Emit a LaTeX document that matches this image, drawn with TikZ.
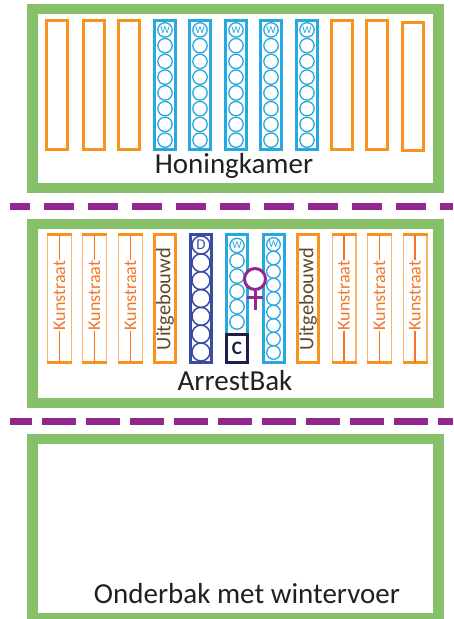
\documentclass[tikz,border=0pt]{standalone}
\usepackage{fontspec}
\setmainfont{Carlito}
\definecolor{boxgreen}{RGB}{134,193,106}
\definecolor{frameorange}{RGB}{247,147,30}
\definecolor{kunstorange}{RGB}{243,118,38}
\definecolor{lightorange}{RGB}{249,180,105}
\definecolor{lightblue}{RGB}{39,168,224}
\definecolor{darkblue}{RGB}{59,75,164}
\definecolor{queenpurple}{RGB}{147,39,143}
\definecolor{navy}{RGB}{27,31,74}
\definecolor{textgrey}{RGB}{35,31,32}
\definecolor{brown}{RGB}{96,72,40}
\tikzset{
  greenbox/.style={draw=boxgreen, line width=10.5pt, fill=white, inner sep=0pt},
  oframe/.style={draw=frameorange, line width=3pt, inner sep=0pt, minimum width=21pt},
  bframe/.style={draw=lightblue, line width=3pt, inner sep=0pt, minimum width=21pt},
  dframe/.style={draw=darkblue, line width=3pt, inner sep=0pt, minimum width=21pt},
  bcirc/.style={circle, draw=lightblue, line width=1.3pt, inner sep=0pt, minimum size=14.4pt, text=lightblue, font=\fontsize{10.5}{10.5}\selectfont},
  rcirc/.style={circle, draw=lightblue, line width=1.3pt, inner sep=0pt, minimum size=13.6pt, text=lightblue, font=\fontsize{10.5}{10.5}\selectfont},
  dcirc/.style={circle, draw=darkblue, line width=1.5pt, inner sep=0pt, minimum size=18pt, text=darkblue, font=\fontsize{15}{15}\selectfont},
  kunstthin/.style={draw=lightorange, line width=1.4pt},
  kunstbar/.style={draw=frameorange, line width=3pt},
  kunstline/.style={draw=kunstorange, line width=1.8pt},
  kunsttext/.style={rotate=90, inner sep=0pt, text=kunstorange, font=\fontsize{18}{18}\selectfont},
  uittext/.style={rotate=90, inner sep=0pt, text=brown, font=\fontsize{20.5}{20.5}\selectfont},
  bigtext/.style={anchor=base, inner sep=0pt, text=textgrey, font=\fontsize{29}{29}\selectfont},
  divider/.style={draw=queenpurple, line width=7pt},
  queen/.style={circle, draw=queenpurple, line width=3pt, fill=white, inner sep=0pt, minimum size=21pt},
  qline/.style={draw=queenpurple, line width=3pt},
  cbox/.style={draw=navy, line width=3pt, fill=white, inner sep=0pt, minimum width=21pt, minimum height=28pt, text=navy, font=\bfseries\fontsize{19}{19}\selectfont}
}
\begin{document}
\begin{tikzpicture}[x=1pt,y=-1pt]
\useasboundingbox (0,0) rectangle (453,619);
\fill[white] (0,0) rectangle (453,619);

% ---------- green boxes ----------
\node[greenbox, minimum width=406.4pt, minimum height=179pt] (honing) at (235.5,98.7) {};
\node[greenbox, minimum width=406.4pt, minimum height=179pt] (arrest) at (235.5,313.7) {};
\node[greenbox, minimum width=406.4pt, minimum height=179pt] (onder) at (235.5,528.7) {};

% ---------- dividers ----------
\coordinate (d1a) at (10,206.5);
\coordinate (d1b) at (453,206.5);
\coordinate (d2a) at (10,421.5);
\coordinate (d2b) at (453,421.5);
\draw[divider, dash pattern=on 30pt off 14pt, dash phase=10pt] (d1a) -- (d1b);
\draw[divider, dash pattern=on 34pt off 10pt, dash phase=12pt] (d2a) -- (d2b);

% ---------- Honingkamer frames ----------
\foreach \x [count=\i] in {57,94,129,341.5,377} {
  \node[oframe, minimum height=129pt] (ho\i) at (\x,85) {};
}
\node[oframe, minimum height=128pt] (ho6) at (413,86.5) {};
\foreach \x [count=\i] in {165,200,236,271,307} {
  \node[bframe, minimum height=129pt] (hb\i) at (\x,85) {};
  \node[bcirc] (hb\i-0) at (\x,29.9) {W};
  \foreach \k in {1,...,7} {
    \node[bcirc] (hb\i-\k) at (\x,29.9+15.75*\k) {};
  }
}
\node[bigtext] (honingtext) at (234,173) {Honingkamer};

% ---------- ArrestBak frames ----------
\foreach \x [count=\i] in {59.5,94.5,130.5,344,379.5,415} {
  \draw[kunstthin] (\x-11.8,234.5) rectangle (\x+11.8,362.5);
  \coordinate (kt\i) at (\x,234.5);
  \coordinate (kb\i) at (\x,362.5);
  \draw[kunstbar] (\x-12.5,234.5) -- (\x+12.5,234.5);
  \draw[kunstbar] (\x-12.5,362.5) -- (\x+12.5,362.5);
  \node[kunsttext] (k\i) at (\x,295.5) {Kunstraat};
  \draw[kunstline] (kt\i) -- (k\i.east);
  \draw[kunstline] (k\i.west) -- (kb\i);
}
\node[oframe, minimum height=128pt] (u1) at (165,298.5) {};
\node[uittext] (u1t) at (165,299) {Uitgebouwd};
\node[oframe, minimum height=128pt] (u2) at (308,298.5) {};
\node[uittext] (u2t) at (308,299) {Uitgebouwd};

% D frame
\node[dframe, minimum height=128pt] (dfr) at (201,298.5) {};
\node[dcirc] (dc0) at (201,245) {D};
\foreach \k in {1,...,6} {
  \node[dcirc] (dc\k) at (201,245+17.83*\k) {};
}

% C frame
\node[bframe, minimum height=128pt] (cfr) at (237,298.5) {};
\node[bcirc] (cc0) at (237,245.5) {W};
\foreach \k in {1,...,5} {
  \node[bcirc] (cc\k) at (237,245.5+15.3*\k) {};
}
\node[cbox] (cb) at (237,348.5) {C};

% right blue frame
\node[bframe, minimum height=128pt] (rfr) at (273.5,298.5) {};
\node[rcirc] (rc0) at (273.5,244.5) {W};
\foreach \k in {1,...,8} {
  \node[rcirc] (rc\k) at (273.5,244.5+13.5*\k) {};
}

% queen symbol
\node[queen] (q) at (255,279) {};
\coordinate (qend) at (255,310);
\coordinate (qbl) at (247,297.5);
\coordinate (qbr) at (263,297.5);
\draw[qline] (q.south) -- (qend);
\draw[qline] (qbl) -- (qbr);

\node[bigtext] (arresttext) at (235,390) {ArrestBak};

% ---------- Onderbak ----------
\node[bigtext] (ondertext) at (247,603) {Onderbak met wintervoer};
\end{tikzpicture}
\end{document}
